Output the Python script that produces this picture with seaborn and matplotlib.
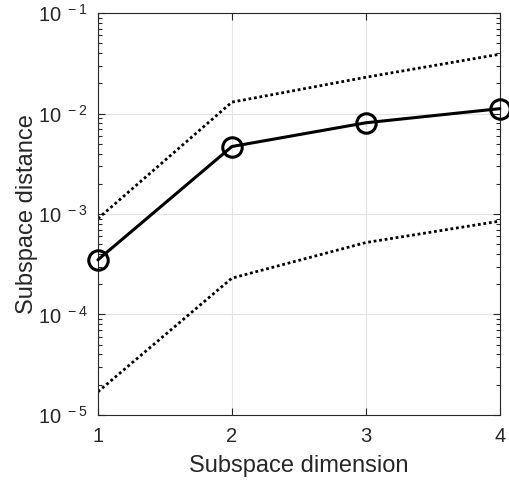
import pandas as pd
import seaborn as sns
import matplotlib.pyplot as plt
from matplotlib.ticker import LogLocator, FuncFormatter, NullFormatter
import numpy as np


# ======================================
# DATA
# ======================================

dims = [1, 2, 3, 4]

dist_mean = [3.5e-4, 4.7e-3, 8.1e-3, 1.12e-2]

dist_upper = [9.0e-4, 1.3e-2, 2.3e-2, 3.9e-2]

dist_lower = [1.7e-5, 2.3e-4, 5.2e-4, 8.5e-4]

df = pd.DataFrame({
    "dim": dims,
    "mean": dist_mean,
    "upper": dist_upper,
    "lower": dist_lower
})


# ======================================
# STYLE
# ======================================

sns.set_style("ticks")

plt.rcParams["font.family"] = ["Liberation Sans", "DejaVu Sans"]
plt.rcParams["mathtext.fontset"] = "custom"
plt.rcParams["mathtext.rm"] = "Liberation Sans"
plt.rcParams["mathtext.default"] = "regular"

AX_COLOR = "#262626"


def pow_label(v, pos):
    exp = int(round(np.log10(v)))
    return "10$^{\\ %d}$" % exp


# ======================================
# PLOT
# ======================================

fig = plt.figure(figsize=(5.1, 4.87), dpi=100)

ax = fig.add_axes([0.192, 0.148, 0.788, 0.825])

sns.lineplot(
    data=df, x="dim", y="upper",
    color="black", linewidth=2.0, linestyle=(0, (1, 1)),
    ax=ax
)

sns.lineplot(
    data=df, x="dim", y="lower",
    color="black", linewidth=2.0, linestyle=(0, (1, 1)),
    ax=ax
)

sns.lineplot(
    data=df, x="dim", y="mean",
    color="black", linewidth=2.2,
    marker="o", markersize=14, markerfacecolor="none",
    markeredgecolor="black", markeredgewidth=2.2,
    clip_on=False, zorder=5,
    ax=ax
)

ax.set_yscale("log")
ax.set_xlim(1, 4)
ax.set_ylim(1e-5, 1e-1)

ax.set_xticks(dims)
ax.yaxis.set_major_locator(LogLocator(base=10, numticks=10))
ax.yaxis.set_major_formatter(FuncFormatter(pow_label))
ax.yaxis.set_minor_locator(LogLocator(base=10, subs=range(2, 10), numticks=20))
ax.yaxis.set_minor_formatter(NullFormatter())

ax.grid(True, which="major", color="#e3e3e3", linewidth=0.8)
ax.set_axisbelow(True)

ax.tick_params(
    which="both", direction="in", top=True, right=True,
    colors=AX_COLOR, labelsize=14.5, width=0.8
)
ax.tick_params(which="major", length=5)
ax.tick_params(which="minor", length=3)
ax.tick_params(axis="x", pad=9)
ax.tick_params(axis="y", pad=7)

for spine in ax.spines.values():
    spine.set_color(AX_COLOR)
    spine.set_linewidth(0.8)

ax.set_xlabel("Subspace dimension", fontsize=17, color=AX_COLOR, labelpad=6)
ax.set_ylabel("Subspace distance", fontsize=17, color=AX_COLOR, labelpad=0)

fig.savefig("out.png", dpi=100)
